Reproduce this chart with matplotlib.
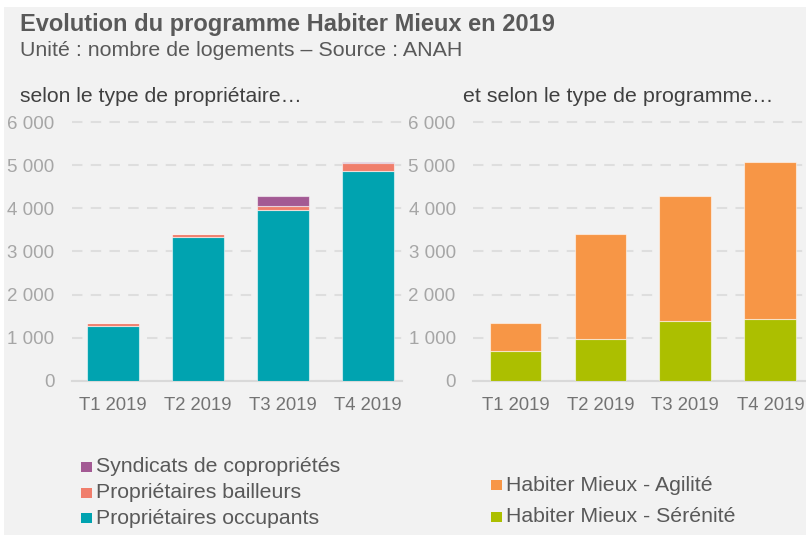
import numpy as np
import matplotlib.pyplot as plt
from matplotlib.patches import Rectangle

plt.rcParams['font.family'] = ['Liberation Sans', 'DejaVu Sans']

# data
quarters = ['T1 2019', 'T2 2019', 'T3 2019', 'T4 2019']
occupants = [1280, 3340, 3970, 4860]
bailleurs = [60, 70, 80, 185]
syndicats = [5, 5, 240, 30]
serenite = [700, 960, 1385, 1425]
agilite = [640, 2450, 2895, 3645]
yticks = [0, 1000, 2000, 3000, 4000, 5000, 6000]
ytick_labels = ['0', '1 000', '2 000', '3 000', '4 000', '5 000', '6 000']

c_occ = '#00a3b0'
c_bail = '#f07e6c'
c_synd = '#a35a94'
c_agi = '#f79646'
c_ser = '#acbf00'
bg = '#f2f2f2'
txt = '#595959'

W, H = 806, 535
fig = plt.figure(figsize=(W / 100, H / 100), dpi=100)
fig.patch.set_facecolor('white')
# grey panel
fig.patches.append(Rectangle((4 / W, 0), 1, 1 - 7 / H, transform=fig.transFigure,
                             facecolor=bg, edgecolor='none', zorder=-10))

def px_axes(x0, x1, y_top, y_bot):
    return fig.add_axes([x0 / W, 1 - y_bot / H, (x1 - x0) / W, (y_bot - y_top) / H])

ymax = 6050
unit = 43.1
ax1 = px_axes(71.7, 401.7, 380.7 - ymax / 1000 * unit, 380.7)
ax2 = px_axes(473, 806, 380.7 - ymax / 1000 * unit, 380.7)

x = np.arange(len(quarters))
edge = (1, 1, 1, 0.55)
w = 0.61

ax1.bar(x, occupants, w, color=c_occ, edgecolor=edge, linewidth=0.8, zorder=3)
ax1.bar(x, bailleurs, w, bottom=occupants, color=c_bail, edgecolor=edge, linewidth=0.8, zorder=3)
bottom2 = np.array(occupants) + np.array(bailleurs)
ax1.bar(x, syndicats, w, bottom=bottom2, color=c_synd, edgecolor=edge, linewidth=0.8, zorder=3)
ax1.set_xlim(-0.49, 3.40)

ax2.bar(x, serenite, w, color=c_ser, edgecolor=edge, linewidth=0.8, zorder=3)
ax2.bar(x, agilite, w, bottom=serenite, color=c_agi, edgecolor=edge, linewidth=0.8, zorder=3)
ax2.set_xlim(-0.5, 3.42)

for ax in (ax1, ax2):
    ax.set_facecolor(bg)
    ax.set_ylim(0, ymax)
    ax.set_yticks(yticks)
    ax.set_yticklabels(ytick_labels)
    ax.set_xticks(x)
    ax.set_xticklabels(quarters)
    for s in ax.spines.values():
        s.set_visible(False)
    ax.spines['bottom'].set_visible(True)
    ax.spines['bottom'].set_color('#d9d9d9')
    ax.spines['bottom'].set_linewidth(1.5)
    ax.tick_params(length=0)
    ax.tick_params(axis='y', labelsize=13.5, labelcolor='#a6a6a6', pad=12.5)
    ax.tick_params(axis='x', labelsize=13.3, labelcolor='#737373', pad=12)
    ax.yaxis.grid(True, color='#dedede', linewidth=1.5, linestyle=(0, (5, 4)), zorder=0)
    ax.set_axisbelow(True)

fig.text(20 / W, 1 - 25 / H, 'Evolution du programme Habiter Mieux en 2019', fontsize=17,
         fontweight='bold', color=txt, va='center')
fig.text(20 / W, 1 - 51 / H, 'Unité : nombre de logements – Source : ANAH', fontsize=15.4,
         color=txt, va='center')
fig.text(20 / W, 1 - 97 / H, 'selon le type de propriétaire…', fontsize=15.2,
         color='#404040', va='center')
fig.text(463 / W, 1 - 97 / H, 'et selon le type de programme…', fontsize=15.4,
         color='#404040', va='center')

def legend_item(xp, yp, color, label):
    fig.patches.append(Rectangle((xp / W, 1 - (yp + 5) / H), 10.5 / W, 10 / H,
                                 transform=fig.transFigure, facecolor=color, edgecolor='none'))
    fig.text((xp + 15.5) / W, 1 - yp / H, label, fontsize=15.3, color=txt, va='center')

legend_item(81, 467, c_synd, 'Syndicats de copropriétés')
legend_item(81, 492.7, c_bail, 'Propriétaires bailleurs')
legend_item(81, 518.3, c_occ, 'Propriétaires occupants')
legend_item(491, 485.3, c_agi, 'Habiter Mieux - Agilité')
legend_item(491, 516.7, c_ser, 'Habiter Mieux - Sérénité')

fig.savefig('out.png', dpi=100, facecolor=fig.get_facecolor())
